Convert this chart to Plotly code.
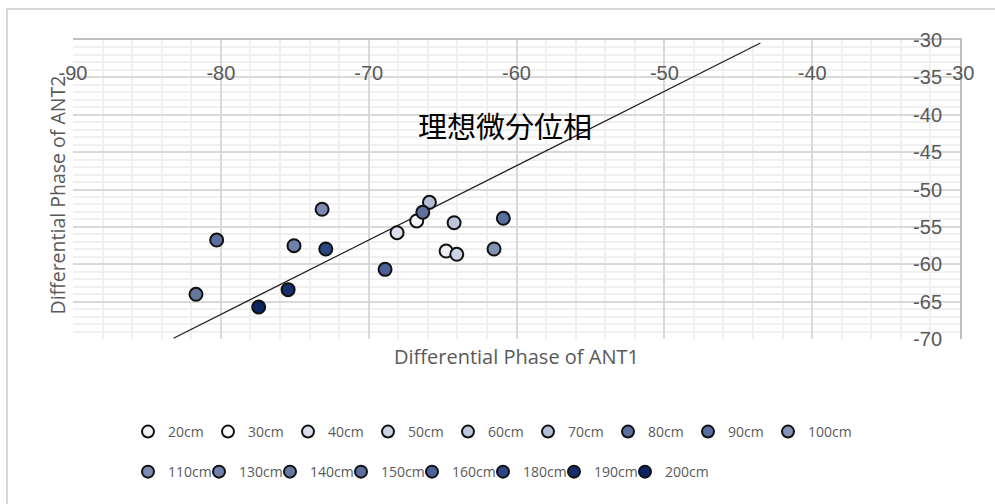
import plotly.graph_objects as go

# Measured differential phases (degrees) per antenna distance
distances = ["20cm", "30cm", "40cm", "50cm", "60cm", "70cm", "80cm", "90cm", "100cm",
             "110cm", "130cm", "140cm", "150cm", "160cm", "180cm", "190cm", "200cm"]
ant1_phase = [-64.76, -66.75, -68.08, -64.04, -64.22, -65.89, -66.34, -60.89, -61.52,
              -73.15, -75.05, -81.68, -80.28, -68.89, -72.90, -75.45, -77.44]
ant2_phase = [-58.23, -54.21, -55.78, -58.67, -54.44, -51.71, -53.05, -53.85, -57.96,
              -52.65, -57.52, -64.02, -56.76, -60.68, -57.96, -63.40, -65.72]
marker_colors = ["#eef0f6", "#f7f8fb", "#dadfe9", "#cbd2e3", "#bcc5d9", "#b3bdd4", "#5d6f9c",
                 "#586ea0", "#8593b6", "#7a8ab0", "#6e80ab", "#66789f", "#5b6f9f", "#4a6298",
                 "#2b4682", "#162f6c", "#0b2462"]

# Ideal differential phase reference line
ideal_x = [-83.2, -43.5]
ideal_y = [-69.9, -30.4]

x_ticks = [-90, -80, -70, -60, -50, -40, -30]
x_tick_text = ["-90", "-80", "-70", "-60", "-50", "-40", "-30"]
y_ticks = [-30, -35, -40, -45, -50, -55, -60, -65, -70]
y_tick_text = ["-30", "-35", "-40", "-45", "-50", "-55", "-60", "-65", "-70"]

grey = "#595959"
fig = go.Figure()

fig.add_trace(go.Scatter(
    x=ideal_x, y=ideal_y, mode="lines",
    line=dict(color="#231f20", width=1.2),
    showlegend=False, hoverinfo="skip",
))

for i, name in enumerate(distances):
    fig.add_trace(go.Scatter(
        x=[ant1_phase[i]], y=[ant2_phase[i]], mode="markers", name=name,
        marker=dict(size=13, color=marker_colors[i], line=dict(color="#111111", width=2)),
        legend="legend" if i < 9 else "legend2",
    ))

# blank trailing legend slots so the last label in each row has room
for leg in ("legend", "legend2"):
    fig.add_trace(go.Scatter(
        x=[None], y=[None], mode="markers", name=" ",
        marker=dict(size=1, color="rgba(0,0,0,0)", line=dict(width=0)),
        legend=leg, hoverinfo="skip",
    ))

legend_font = dict(family="Open Sans", size=14, color=grey)

fig.update_layout(
    width=995, height=504,
    margin=dict(l=73, r=35, t=40, b=165),
    paper_bgcolor="white", plot_bgcolor="white",
    font=dict(family="Liberation Sans, Arial", color=grey),
    xaxis=dict(
        range=[-90, -30], tickvals=x_ticks, ticktext=x_tick_text, side="top",
        showline=True, linecolor="#bfbfbf", linewidth=2,
        ticks="", ticklabelposition="inside", ticklabelstandoff=27,
        ticklabeloverflow="allow",
        tickfont=dict(size=20, color=grey),
        showgrid=True, gridcolor="#d9d9d9", gridwidth=2,
        minor=dict(dtick=2, showgrid=True, gridcolor="#f0f0f0", gridwidth=2),
        zeroline=False, fixedrange=True,
    ),
    yaxis=dict(
        range=[-70, -30], tickvals=y_ticks, ticktext=y_tick_text, side="right",
        showline=True, linecolor="#bfbfbf", linewidth=2,
        ticks="", ticklabelposition="inside", ticklabelstandoff=19,
        ticklabeloverflow="allow",
        tickfont=dict(size=20, color=grey),
        showgrid=True, gridcolor="#d9d9d9", gridwidth=2,
        minor=dict(dtick=1, showgrid=True, gridcolor="#f0f0f0", gridwidth=2),
        zeroline=False, fixedrange=True,
    ),
    legend=dict(
        orientation="h", x=0.062, xanchor="left", y=-0.311, yanchor="middle",
        entrywidth=35, font=legend_font, itemsizing="constant",
    ),
    legend2=dict(
        orientation="h", x=0.062, xanchor="left", y=-0.445, yanchor="middle",
        entrywidth=26, font=legend_font, itemsizing="constant",
    ),
    annotations=[
        dict(text="理想微分位相", x=-60.8, y=-41.4, xref="x", yref="y", showarrow=False,
             font=dict(family="Noto Sans CJK JP", size=29, color="#000000")),
        dict(text="Differential Phase of ANT1", x=0.5, y=-0.06, xref="paper", yref="paper",
             xanchor="center", yanchor="middle", showarrow=False,
             font=dict(family="Open Sans", size=20, color=grey)),
        dict(text="Differential Phase of ANT2", x=-0.018, y=0.48, xref="paper", yref="paper",
             xanchor="center", yanchor="middle", textangle=-90, showarrow=False,
             font=dict(family="Open Sans", size=19.5, color=grey)),
    ],
    shapes=[
        dict(type="rect", xref="paper", yref="paper", x0=-0.0744, x1=1.2, y0=-0.8, y1=1.1037,
             line=dict(color="#d9d9d9", width=2), layer="below"),
    ],
)

fig.write_html("out.html")
